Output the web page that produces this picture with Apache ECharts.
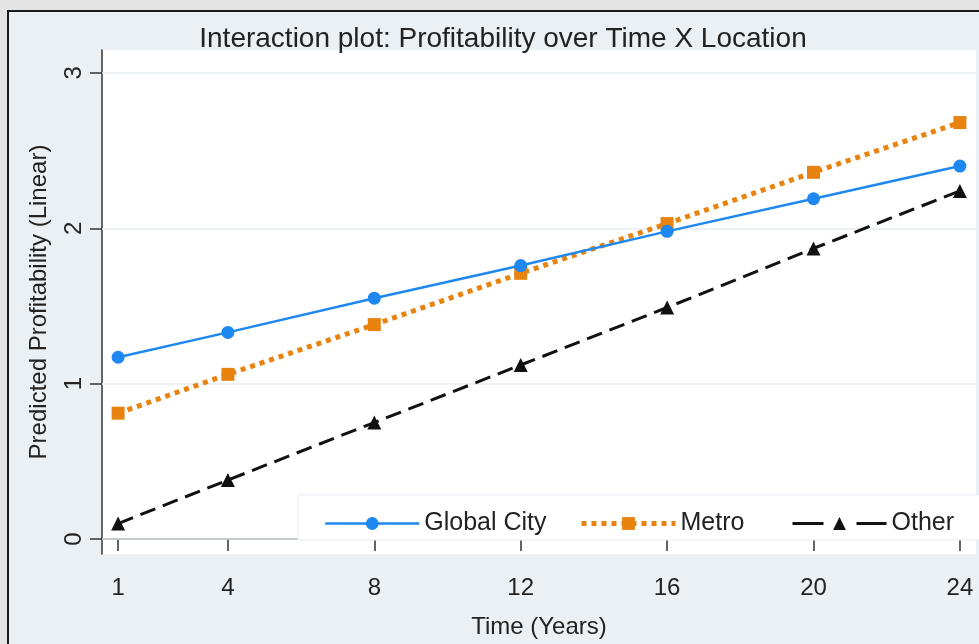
<!DOCTYPE html>
<html>
<head>
<meta charset="utf-8">
<script src="https://cdn.jsdelivr.net/npm/echarts@6/dist/echarts.min.js"></script>
<style>
html,body{margin:0;padding:0;overflow:hidden;background:#e4e4e4;}
#chart{width:979px;height:644px;}
</style>
</head>
<body>
<div id="chart"></div>
<script>
const timeValues = [1, 4, 8, 12, 16, 20, 24];
const globalCity = [1.17, 1.33, 1.55, 1.76, 1.98, 2.19, 2.40];
const metro = [0.81, 1.06, 1.38, 1.71, 2.03, 2.36, 2.68];
const other = [0.10, 0.38, 0.75, 1.12, 1.49, 1.87, 2.24];
const yTicks = [0, 1, 2, 3];
const seriesNames = ['Global City', 'Metro', 'Other'];

const FONT = 'Liberation Sans, Arial, sans-serif';
const pairs = vals => timeValues.map((t, i) => [t, vals[i]]);

const chart = echarts.init(document.getElementById('chart'), null, {renderer: 'canvas'});

const legendBase = {
  orient: 'horizontal', top: 511, padding: 0, itemWidth: 94, itemHeight: 16, itemGap: 5,
  textStyle: {fontFamily: FONT, fontSize: 25, color: '#222'},
  selectedMode: false
};

chart.setOption({
  backgroundColor: '#e4e4e4',
  animation: false,
  textStyle: {fontFamily: FONT},
  title: {
    text: 'Interaction plot: Profitability over Time X Location',
    left: 503, textAlign: 'center', top: 25, padding: 0,
    textStyle: {fontFamily: FONT, fontSize: 28, fontWeight: 'normal', color: '#222'}
  },
  graphic: [
    {type: 'rect', z: -100, silent: true,
     shape: {x: 8, y: 11, width: 1000, height: 700},
     style: {fill: '#eaf0f4', stroke: '#1a1a1a', lineWidth: 2}},
    {type: 'rect', z: 3, silent: true,
     shape: {x: 298, y: 495, width: 690, height: 45},
     style: {fill: '#ffffff', stroke: '#e6edf1', lineWidth: 1}}
  ],
  legend: [
    Object.assign({}, legendBase, {left: 324, data: [seriesNames[0]],
      lineStyle: {width: 2.5}}),
    Object.assign({}, legendBase, {left: 579, data: [seriesNames[1]],
      lineStyle: {width: 5, type: [5, 5]}}),
    Object.assign({}, legendBase, {left: 791, data: [seriesNames[2]],
      lineStyle: {width: 3, type: [31, 33]}})
  ],
  grid: {
    left: 102, top: 50, right: 3, bottom: 87,
    show: true, backgroundColor: '#ffffff', borderWidth: 0
  },
  xAxis: {
    type: 'value', min: 0.56, max: 24.44,
    axisLine: {show: true, lineStyle: {color: '#333', width: 1.5}},
    axisTick: {show: true, customValues: timeValues, length: 12, lineStyle: {color: '#333', width: 1.5}},
    axisLabel: {customValues: timeValues, fontSize: 24, color: '#222', margin: 22, fontFamily: FONT},
    splitLine: {show: false},
    name: 'Time (Years)', nameLocation: 'middle', nameGap: 61,
    nameTextStyle: {fontSize: 24, color: '#222', fontFamily: FONT}
  },
  yAxis: {
    type: 'value', min: -0.096, max: 3.147,
    axisLine: {show: true, lineStyle: {color: '#333', width: 1.5}},
    axisTick: {show: true, customValues: yTicks, length: 12, lineStyle: {color: '#333', width: 1.5}},
    axisLabel: {customValues: yTicks, rotate: 90, fontSize: 24, color: '#222', margin: 16, fontFamily: FONT},
    splitLine: {show: false},
    name: 'Predicted Profitability (Linear)', nameLocation: 'middle', nameGap: 51, nameRotate: 90,
    nameTextStyle: {fontSize: 24, color: '#222', fontFamily: FONT}
  },
  series: [
    {
      name: seriesNames[0], type: 'line', data: pairs(globalCity),
      symbol: 'circle', symbolSize: 13, z: 5,
      itemStyle: {color: '#1e88f0'},
      lineStyle: {color: '#1e88f0', width: 2.5},
      markLine: {
        silent: true, symbol: 'none', label: {show: false}, z: 1,
        lineStyle: {color: '#e5ecf0', width: 1.5, type: 'solid'},
        data: yTicks.map(v => ({yAxis: v}))
      }
    },
    {
      name: seriesNames[1], type: 'line', data: pairs(metro),
      symbol: 'rect', symbolSize: 13, z: 4,
      itemStyle: {color: '#e8830f'},
      lineStyle: {color: '#e8830f', width: 5, type: [5, 5], cap: 'butt'}
    },
    {
      name: seriesNames[2], type: 'line', data: pairs(other),
      symbol: 'triangle', symbolSize: 14, z: 3,
      itemStyle: {color: '#111'},
      lineStyle: {color: '#111', width: 3, type: [16, 8], cap: 'butt'}
    }
  ]
});
</script>
</body>
</html>
